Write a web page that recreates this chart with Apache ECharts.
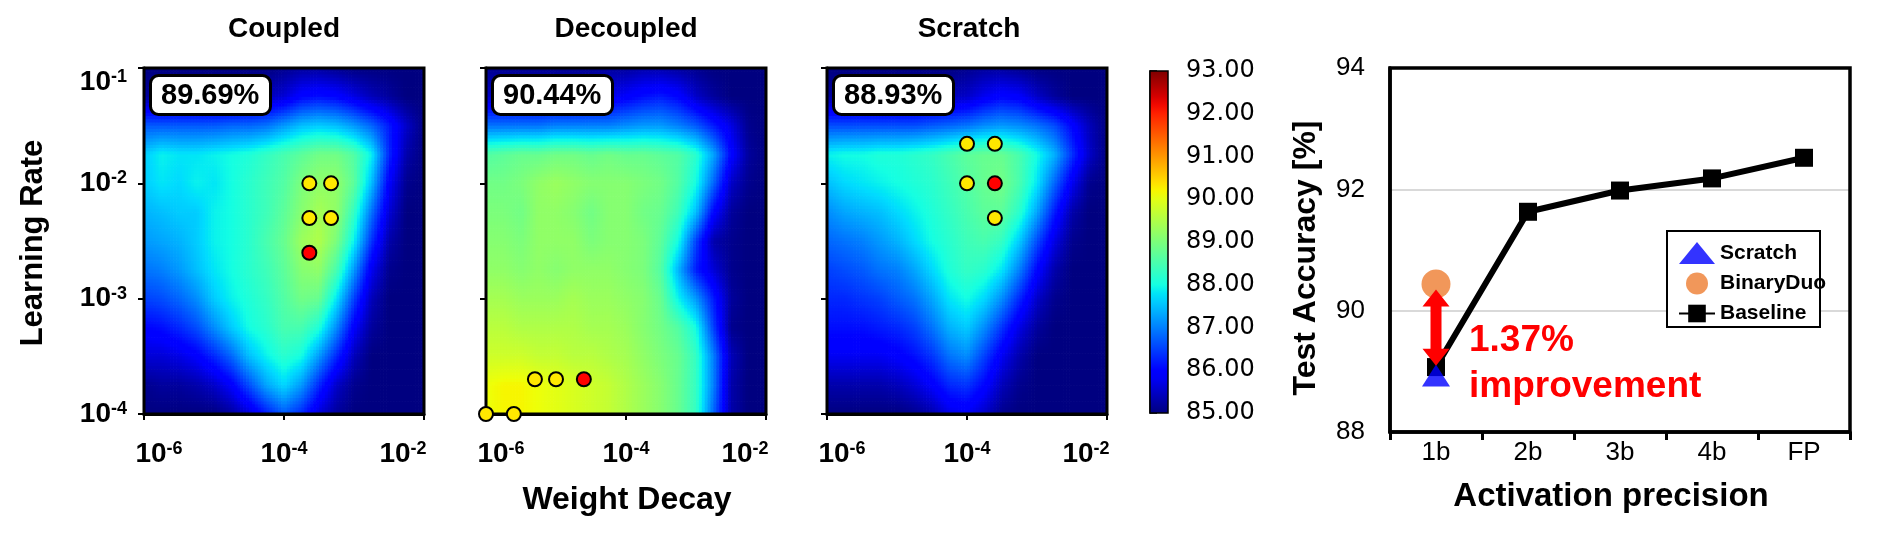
<!DOCTYPE html>
<html><head><meta charset="utf-8">
<script src="https://cdn.jsdelivr.net/npm/echarts@6.0.0/dist/echarts.min.js"></script>
<style>html,body{margin:0;padding:0;background:#fff}#c{width:1877px;height:541px}</style>
</head><body><div id="c"></div>
<script>
// ---------------- data ----------------
const panelTitles = ['Coupled', 'Decoupled', 'Scratch'];
const bestAcc = [89.69, 90.44, 88.93];
// grid nodes (log10 of weight decay / learning rate)
const weightDecayExp = [-6,-5.75,-5.5,-5.25,-5,-4.75,-4.5,-4.25,-4,-3.75,-3.5,-3.25,-3,-2.75,-2.5,-2.25,-2];
const learningRateExp = [-1,-1.25,-1.5,-1.75,-2,-2.25,-2.5,-2.75,-3,-3.25,-3.5,-3.75,-4];
const wdTicksExp = [-6, -4, -2];
const lrTicksExp = [-4, -3, -2, -1];
const accRange = [85, 93];

const coupledAcc = [
  [85,85,85,85,85,85,85,85,85.1,85.2,85.2,85.1,85,85,85,85,85],
  [85.2,85.2,85.2,85.2,85.2,85.2,85.3,85.4,85.6,86.0,86.1,86.0,85.7,85.4,85.2,85,85],
  [86.7,86.7,86.7,86.7,86.7,86.8,86.8,86.9,87.2,87.5,87.6,87.5,87.2,86.8,86.2,85.5,85],
  [87.6,87.9,87.8,87.8,87.9,88.0,88.1,88.3,88.5,88.7,88.9,88.9,88.6,87.9,86.3,85.3,85],
  [87.6,87.8,87.7,87.9,87.8,88.0,88.2,88.4,88.6,89.0,89.2,89.2,88.7,87.5,85.9,85.1,85],
  [87.4,87.5,87.6,87.6,87.9,88.0,88.2,88.4,88.7,89.1,89.4,89.2,88.3,86.9,85.6,85,85],
  [87.2,87.3,87.4,87.6,87.9,88.0,88.2,88.5,88.8,89.3,89.5,89.0,87.9,86.4,85.3,85,85],
  [86.9,87.0,87.2,87.5,87.8,88.0,88.2,88.4,88.7,89.1,89.2,88.5,87.2,85.8,85.1,85,85],
  [86.5,86.6,86.8,87.1,87.6,87.9,88.1,88.3,88.6,88.9,88.8,87.8,86.5,85.4,85,85,85],
  [86.0,86.1,86.3,86.6,87.1,87.6,88.0,88.2,88.5,88.5,88.1,87.1,85.9,85.2,85,85,85],
  [85.6,85.6,85.7,85.9,86.3,86.8,87.5,87.9,88.2,88.0,87.2,86.3,85.4,85,85,85,85],
  [85.1,85.2,85.2,85.3,85.5,85.9,86.6,87.3,87.7,87.2,86.3,85.5,85.1,85,85,85,85],
  [85,85,85,85,85,85.2,85.6,86.2,86.7,86.3,85.6,85.2,85,85,85,85,85]
];
const decoupledAcc = [
  [85.1,85.1,85.1,85.1,85.1,85.1,85.1,85.2,85.2,85.3,85.3,85.2,85.1,85,85,85,85],
  [85.5,85.5,85.5,85.5,85.5,85.5,85.6,85.7,85.9,86.1,86.2,86.0,85.5,85.2,85,85,85],
  [86.9,86.9,86.9,86.9,87.0,87.0,87.0,87.0,87.1,87.2,87.2,87.0,86.7,86.2,85.7,85.1,85],
  [88.6,88.7,88.8,88.8,88.9,88.9,88.8,88.9,88.8,88.8,88.7,88.6,88.2,87.3,86.0,85.2,85],
  [88.9,88.9,89.0,89.2,89.3,89.2,89.1,89.1,89.1,89.0,88.9,88.6,88.0,86.8,85.5,85.1,85],
  [89.0,89.0,88.9,89.2,89.2,89.1,88.9,89.1,89.1,88.9,88.8,88.4,87.5,86.0,85.2,85,85],
  [89.1,89.1,89.0,89.2,89.2,89.2,89.0,89.1,89.1,89.0,88.7,88.0,86.5,85.3,85.1,85,85],
  [89.2,89.2,89.1,89.2,89.1,89.2,89.2,89.2,89.1,89.0,88.6,87.4,86.2,85.6,85.1,85,85],
  [89.4,89.4,89.3,89.3,89.3,89.4,89.3,89.3,89.2,89.1,88.8,87.9,87.2,86.2,85.2,85,85],
  [89.6,89.6,89.5,89.5,89.5,89.5,89.4,89.4,89.3,89.1,88.9,88.6,88.0,86.5,85.1,85,85],
  [89.8,89.8,89.8,89.7,89.7,89.6,89.6,89.5,89.4,89.2,89.0,88.8,88.3,87.0,85.4,85,85],
  [90.1,90.2,90.2,90.1,90.0,89.9,89.8,89.7,89.5,89.3,89.1,88.8,88.3,87.0,85.3,85,85],
  [90.1,90.2,90.2,90.1,90.0,89.9,89.8,89.7,89.5,89.3,89.1,88.8,88.3,86.8,85.3,85,85]
];
const scratchAcc = [
  [85,85,85,85,85,85,85,85,85.1,85.2,85.2,85.1,85,85,85,85,85],
  [85.2,85.2,85.2,85.2,85.2,85.3,85.3,85.4,85.5,85.8,86.0,85.9,85.5,85.2,85,85,85],
  [86.6,86.6,86.6,86.6,86.6,86.6,86.7,86.8,86.9,87.1,87.2,87.1,86.9,86.6,86.0,85.4,85],
  [87.9,88.0,88.0,88.1,88.1,88.2,88.3,88.5,88.7,88.8,88.8,88.5,88.0,87.4,86.4,85.5,85],
  [87.5,87.7,87.8,87.9,88.0,88.1,88.2,88.4,88.6,88.8,88.9,88.5,87.8,86.8,85.8,85.1,85],
  [87.1,87.3,87.4,87.5,87.7,87.9,88.1,88.3,88.5,88.7,88.7,88.2,87.3,86.2,85.3,85,85],
  [86.8,86.9,87.0,87.2,87.4,87.7,88.0,88.2,88.4,88.5,88.3,87.6,86.6,85.7,85.1,85,85],
  [86.5,86.6,86.7,86.9,87.0,87.3,87.7,88.1,88.3,88.2,87.8,87.0,86.0,85.3,85,85,85],
  [86.3,86.3,86.4,86.5,86.7,86.9,87.3,87.8,88.0,87.7,87.1,86.3,85.5,85.1,85,85,85],
  [86.1,86.1,86.1,86.2,86.3,86.5,86.9,87.4,87.6,87.1,86.4,85.7,85.2,85,85,85,85],
  [85.8,85.8,85.8,85.8,85.9,86.1,86.4,86.9,87.1,86.5,85.8,85.3,85,85,85,85,85],
  [85.3,85.3,85.3,85.3,85.4,85.6,85.9,86.3,86.4,86.0,85.4,85.1,85,85,85,85,85],
  [85,85,85,85,85,85.1,85.3,85.7,85.8,85.5,85.1,85,85,85,85,85,85]
];

// trial markers [weight decay, learning rate]
const coupledTrials = [[2.3e-4,1e-2],[4.7e-4,1e-2],[2.3e-4,5e-3],[4.7e-4,5e-3]];
const coupledBest = [[2.3e-4,2.5e-3]];
const decoupledTrials = [[5e-6,2e-4],[1e-5,2e-4],[1e-6,1e-4],[2.5e-6,1e-4]];
const decoupledBest = [[2.5e-5,2e-4]];
const scratchTrials = [[1e-4,2.2e-2],[2.5e-4,2.2e-2],[1e-4,1e-2],[2.5e-4,5e-3]];
const scratchBest = [[2.5e-4,1e-2]];

// right panel
const precision = ['1b','2b','3b','4b','FP'];
const baseline = [89.07, 91.63, 91.98, 92.18, 92.52];
const scratch1b = [88.93];
const binaryDuo1b = [90.44];
const arrowSpan = [90.35, 89.09];
const accTicks = [88, 94, 2];

// ---------------- helpers ----------------
const JR=[[0,0],[0.35,0],[0.66,1],[0.89,1],[1,0.5]];
const JG=[[0,0],[0.125,0],[0.375,1],[0.64,1],[0.91,0],[1,0]];
const JB=[[0,0.5],[0.11,1],[0.34,1],[0.65,0],[1,0]];
function seg(t, p){ for(let i=1;i<p.length;i++){ if(t<=p[i][0]){ const a=p[i-1],b=p[i]; return a[1]+(b[1]-a[1])*(t-a[0])/(b[0]-a[0]); } } return p[p.length-1][1]; }
function jetT(t){ t=Math.max(0,Math.min(1,t)); return 'rgb('+Math.round(255*seg(t,JR))+','+Math.round(255*seg(t,JG))+','+Math.round(255*seg(t,JB))+')'; }
function jet(v){ return jetT((v-accRange[0])/(accRange[1]-accRange[0])); }

const FONT = 'Liberation Sans';
const panelLeft = [144, 486, 827];

function heatSeries(idx, grid){
  const data = [];
  for (let r=0;r<learningRateExp.length-1;r++)
    for (let c=0;c<weightDecayExp.length-1;c++)
      data.push([weightDecayExp[c], learningRateExp[r], c, r]);
  return {
    type:'custom', xAxisIndex:idx, yAxisIndex:idx, silent:true, animation:false, z:1,
    encode:{x:0,y:1}, data,
    renderItem(params, api){
      const c = api.value(2), r = api.value(3);
      const a = api.coord([weightDecayExp[c], learningRateExp[r]]);
      const b = api.coord([weightDecayExp[c+1], learningRateExp[r+1]]);
      const v00=grid[r][c], v01=grid[r][c+1], v10=grid[r+1][c], v11=grid[r+1][c+1];
      const NX=6, NY=9, dx=(b[0]-a[0])/NX, dy=(b[1]-a[1])/NY;
      const children=[];
      for(let i=0;i<NX;i++) for(let j=0;j<NY;j++){
        const u=(i+0.5)/NX, w=(j+0.5)/NY;
        const v=v00*(1-u)*(1-w)+v01*u*(1-w)+v10*(1-u)*w+v11*u*w;
        children.push({type:'rect', shape:{x:a[0]+i*dx, y:a[1]+j*dy, width:dx+0.7, height:dy+0.7}, style:{fill:jet(v)}});
      }
      return {type:'group', children};
    }
  };
}
function marks(idx, pts, color){
  return {type:'scatter', xAxisIndex:idx, yAxisIndex:idx, clip:false, z:20, silent:true,
    data: pts.map(p=>[Math.log10(p[0]), Math.log10(p[1])]), symbol:'circle', symbolSize:14,
    itemStyle:{color, borderColor:'#000', borderWidth:2, opacity:1}};
}
const richX = {
  b:{fontFamily:FONT, fontSize:28, fontWeight:'bold', color:'#000'},
  s:{fontFamily:FONT, fontSize:18, fontWeight:'bold', color:'#000', verticalAlign:'top'},
  sp:{width:30}, sp2:{width:42}
};
function xFmt(v){
  const core = '{b|10}{s|' + v + '}';
  if (v === wdTicksExp[0]) return '{sp|}' + core;
  if (v === wdTicksExp[wdTicksExp.length-1]) return core + '{sp2|}';
  return core;
}

const grids = [], xAxes = [], yAxes = [], titles = [], series = [];
for (let i=0;i<3;i++){
  grids.push({left:panelLeft[i], top:68, width:280, height:346, show:true, borderColor:'#000', borderWidth:3, backgroundColor:'transparent', z:10});
  xAxes.push({gridIndex:i, type:'value', min:wdTicksExp[0], max:wdTicksExp[2], interval:2,
    axisLine:{show:true, onZero:false, lineStyle:{color:'#000', width:3}},
    axisTick:{show:true, inside:false, length:6, lineStyle:{color:'#000', width:2}},
    splitLine:{show:false},
    axisLabel:{margin:26, formatter:xFmt, rich:richX, fontSize:28, fontWeight:'bold', fontFamily:FONT, color:'#000'}});
  yAxes.push({gridIndex:i, type:'value', min:lrTicksExp[0], max:lrTicksExp[3], interval:1,
    axisLine:{show:true, onZero:false, lineStyle:{color:'#000', width:3}},
    axisTick:{show:true, inside:false, length:6, lineStyle:{color:'#000', width:2}},
    splitLine:{show:false},
    axisLabel: i===0 ? {show:true, margin:17, formatter:v=>'{b|10}{s|'+v+'}', rich:richX,
      fontSize:28, fontWeight:'bold', fontFamily:FONT, color:'#000',
      verticalAlignMaxLabel:'top'} : {show:false}});
  titles.push({text: bestAcc[i].toFixed(2)+'%', left:panelLeft[i]+6, top:75, z:15,
    backgroundColor:'#fff', borderColor:'#000', borderWidth:3, borderRadius:8, padding:[5,11,4,11],
    textStyle:{fontFamily:FONT, fontSize:29, fontWeight:'bold', color:'#000', lineHeight:31}});
}
// colorbar grid
grids.push({left:1150, top:71, width:18, height:342, show:true, borderColor:'#000', borderWidth:1.5, backgroundColor:'transparent', z:10});
xAxes.push({gridIndex:3, type:'value', min:0, max:1, show:false});
yAxes.push({gridIndex:3, type:'value', min:accRange[0], max:accRange[1], interval:1, position:'right',
  axisLine:{show:true, lineStyle:{color:'#000', width:1.5}},
  axisTick:{show:true, inside:false, length:7, lineStyle:{color:'#000', width:1.5}},
  splitLine:{show:false},
  axisLabel:{margin:18, fontFamily:'DejaVu Sans', fontSize:24, color:'#000', formatter:v=>v.toFixed(2)}});
// right line chart grid
grids.push({left:1390, top:68, width:460, height:364, show:true, borderColor:'#000', borderWidth:3.5, backgroundColor:'transparent', z:5});
xAxes.push({gridIndex:4, type:'category', data:precision, boundaryGap:true,
  axisLine:{show:true, lineStyle:{color:'#000', width:3.5}},
  axisTick:{show:true, inside:false, length:8, lineStyle:{color:'#000', width:3}},
  axisLabel:{margin:8, fontFamily:FONT, fontSize:26, color:'#000'}});
yAxes.push({gridIndex:4, type:'value', min:accTicks[0], max:accTicks[1], interval:accTicks[2],
  axisLine:{show:true, lineStyle:{color:'#000', width:3.5}},
  axisTick:{show:false},
  axisLabel:{margin:25, fontFamily:FONT, fontSize:26, color:'#000'},
  splitLine:{show:true, showMinLine:false, showMaxLine:false, lineStyle:{color:'#d9d9d9', width:2}}});

const accGrids = [coupledAcc, decoupledAcc, scratchAcc];
const trials = [coupledTrials, decoupledTrials, scratchTrials];
const bests = [coupledBest, decoupledBest, scratchBest];
for (let i=0;i<3;i++) series.push(heatSeries(i, accGrids[i]));
for (let i=0;i<3;i++) series.push(marks(i, trials[i], '#FFE800'));
for (let i=0;i<3;i++) series.push(marks(i, bests[i], '#FF0000'));

// colorbar
const cbStops = [];
for (let k=0;k<=40;k++) cbStops.push({offset:k/40, color:jetT(k/40)});
series.push({type:'custom', xAxisIndex:3, yAxisIndex:3, silent:true, animation:false, z:1,
  encode:{x:0, y:[1,2]}, data:[[0, accRange[0], accRange[1]]],
  renderItem(params, api){
    const p0 = api.coord([0, api.value(1)]), p1 = api.coord([1, api.value(2)]);
    return {type:'rect', shape:{x:p0[0], y:p1[1], width:p1[0]-p0[0], height:p0[1]-p1[1]},
      style:{fill:new echarts.graphic.LinearGradient(0,1,0,0,cbStops)}};
  }});

// right panel
series.push({name:'Baseline', type:'line', xAxisIndex:4, yAxisIndex:4, data:baseline, z:3,
  symbol:'rect', symbolSize:18, showAllSymbol:true,
  lineStyle:{color:'#000', width:6}, itemStyle:{color:'#000'}, animation:false});
series.push({name:'Scratch', type:'scatter', xAxisIndex:4, yAxisIndex:4, z:4,
  data:scratch1b.map(v=>[0,v]), symbol:'triangle', symbolSize:[28,22], itemStyle:{color:'#0000FF'}, animation:false});
series.push({name:'BinaryDuo', type:'scatter', xAxisIndex:4, yAxisIndex:4, z:4,
  data:binaryDuo1b.map(v=>[0,v]), symbol:'circle', symbolSize:29, itemStyle:{color:'#ED7D31'}, animation:false});
series.push({name:'arrow', type:'custom', xAxisIndex:4, yAxisIndex:4, z:6, silent:true, animation:false,
  encode:{x:0, y:[1,2]}, data:[[0, arrowSpan[0], arrowSpan[1]]],
  renderItem(params, api){
    const t = api.coord([api.value(0), api.value(1)]), b = api.coord([api.value(0), api.value(2)]);
    const x=t[0], yT=t[1], yB=b[1], h=17, hw=13.5, sw=5.5;
    return {type:'polygon', shape:{points:[[x,yT],[x+hw,yT+h],[x+sw,yT+h],[x+sw,yB-h],[x+hw,yB-h],[x,yB],[x-hw,yB-h],[x-sw,yB-h],[x-sw,yT+h],[x-hw,yT+h]]},
      style:{fill:'#FF0000'}};
  }});

function txt(text, x, y, size, opts){
  opts = opts || {};
  return {type:'text', x, y, rotation:opts.rot||0, z:30, silent:true,
    style:{text, fill:opts.color||'#000', fontFamily:FONT, fontSize:size, fontWeight:opts.weight||'bold',
      align:opts.align||'center', verticalAlign:'middle', textAlign:opts.align||'center', textVerticalAlign:'middle'}};
}
const titleX = [284, 626, 969];
const graphics = [];
// legend frame
graphics.push({type:'rect', z:8, silent:true, shape:{x:1667, y:231, width:153, height:96},
  style:{fill:'#fff', stroke:'#000', lineWidth:2}});
for (let i=0;i<3;i++) graphics.push(txt(panelTitles[i], titleX[i], 29, 28));
graphics.push(txt('Learning Rate', 33, 243, 31, {rot:Math.PI/2}));
graphics.push(txt('Weight Decay', 627, 500, 32));
graphics.push(txt('Test Accuracy [%]', 1306, 258, 32, {rot:Math.PI/2}));
graphics.push(txt('Activation precision', 1611, 497, 33));
graphics.push(txt('1.37%', 1469, 341, 37, {align:'left', color:'#FF0000'}));
graphics.push(txt('improvement', 1469, 387, 37, {align:'left', color:'#FF0000'}));

const chart = echarts.init(document.getElementById('c'), null, {renderer:'canvas'});
chart.setOption({
  backgroundColor:'#fff',
  animation:false,
  textStyle:{fontFamily:FONT},
  title: titles,
  grid: grids, xAxis: xAxes, yAxis: yAxes, series,
  legend:{data:['Scratch','BinaryDuo','Baseline'], orient:'vertical', left:1667, top:231,
    padding:[11,2,2,11], itemWidth:36, itemHeight:22, itemGap:8.5,
    borderWidth:0, backgroundColor:'transparent', z:20, selectedMode:false,
    textStyle:{fontFamily:FONT, fontWeight:'bold', fontSize:21, color:'#000'}},
  graphic: graphics
});
</script></body></html>
